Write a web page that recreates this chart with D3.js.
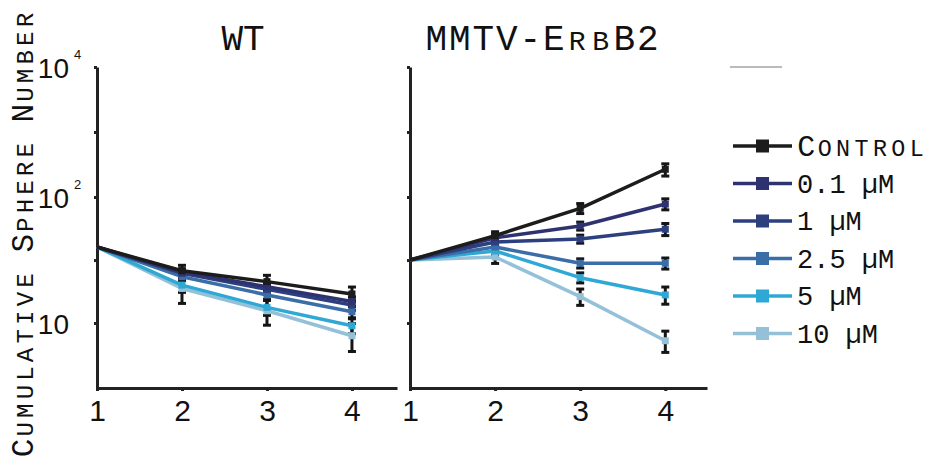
<!DOCTYPE html>
<html>
<head>
<meta charset="utf-8">
<script src="https://cdn.jsdelivr.net/npm/d3@7"></script>
<style>
  body { margin: 0; background: #fff; }
  svg { display: block; }
</style>
</head>
<body>
<svg id="chart"></svg>
<script>
// Data
const days = [1, 2, 3, 4];
const series = ['Control', '0.1 µM', '1 µM', '2.5 µM', '5 µM', '10 µM'];
const seriesColors = ['#1c1c1c', '#2e3270', '#2c3f7f', '#3b6ea6', '#2fa8d5', '#94c1d8'];

const wtMeans = [
  [40.1, 26.0, 21.3, 17.0],
  [40.1, 25.4, 19.4, 14.8],
  [40.1, 24.8, 18.5, 13.9],
  [40.1, 23.3, 16.7, 12.3],
  [40.1, 20.0, 13.3, 9.5],
  [40.1, 18.8, 12.5, 7.9]
];
const wtErrors = [
  [0, 2.7, 2.6, 2.3],
  [0, 1.5, 1.5, 1.3],
  [0, 1.5, 1.5, 1.3],
  [0, 1.6, 1.5, 1.3],
  [0, 2.5, 1.8, 1.3],
  [0, 4.5, 2.9, 2.0]
];
const erbMeans = [
  [31.6, 49.4, 81.3, 267],
  [31.6, 47.5, 58.9, 87.9],
  [31.6, 44.0, 46.4, 55.5],
  [31.6, 40.1, 29.8, 29.8],
  [31.6, 37.3, 22.9, 16.7],
  [31.6, 33.4, 16.2, 7.2]
];
const erbErrors = [
  [0, 3.6, 7.4, 57],
  [0, 3.5, 4.3, 8.8],
  [0, 3.2, 3.4, 6.1],
  [0, 2.9, 2.5, 3.0],
  [0, 2.7, 2.1, 2.6],
  [0, 3.7, 2.4, 1.4]
];
const yTicks = [10, 31.6, 100, 1000, 10000];
const yLabels = [[10, 1], [100, 2], [10000, 4]];

const width = 929, height = 461;
const mono = '"Liberation Mono", "DejaVu Sans Mono", monospace';
const sans = '"Liberation Sans", Arial, sans-serif';

const svg = d3.select('#chart').attr('width', width).attr('height', height);

// the axis is log but its labelled decades are not evenly spaced in the figure
const y = d3.scaleLog().domain([3, 10, 100, 10000]).range([388, 323, 197, 67]);

// monospace small caps: one tspan per glyph on a fixed advance
function smallCaps(g, str, size, advance) {
  const t = g.append('text')
    .attr('font-family', mono).attr('fill', '#111')
    .attr('text-anchor', 'middle');
  const start = -advance * str.length / 2;
  [...str].forEach((c, i) => {
    const lower = c !== c.toUpperCase();
    t.append('tspan')
      .attr('x', start + (i + 0.5) * advance)
      .attr('font-size', lower ? size * 0.78 : size)
      .text(c.toUpperCase());
  });
  return t;
}

const panels = [
  { title: 'WT', means: wtMeans, errors: wtErrors,
    x: d3.scaleLinear().domain([1, 4.53]).range([97, 397]), labels: true, titleX: 243, adv: 21.6 },
  { title: 'MMTV-ErbB2', means: erbMeans, errors: erbErrors,
    x: d3.scaleLinear().domain([1, 4.49]).range([410, 707]), labels: false, titleX: 542, adv: 23.5 }
];

const line = x => d3.line().x((d, i) => x(days[i])).y(d => y(d));

panels.forEach(p => {
  const x = p.x;
  const x0 = x.range()[0];

  // y axis
  const ya = svg.append('g')
    .attr('transform', `translate(${x0},0)`)
    .call(d3.axisLeft(y).tickValues(yTicks).tickSize(3).tickSizeOuter(0).tickFormat(''));
  ya.select('.domain').attr('stroke', '#222').attr('stroke-width', 3);
  ya.selectAll('.tick line').attr('stroke', '#222').attr('stroke-width', 3);

  // x axis
  const xa = svg.append('g')
    .attr('transform', `translate(0,${y.range()[0]})`)
    .call(d3.axisBottom(x).tickValues(days).tickSize(3).tickSizeOuter(0)
      .tickPadding(9).tickFormat(d3.format('d')));
  xa.select('.domain').attr('stroke', '#222').attr('stroke-width', 3);
  xa.selectAll('.tick line').attr('stroke', '#222').attr('stroke-width', 3);
  xa.selectAll('.tick text').attr('font-family', sans).attr('font-size', 30).attr('fill', '#111');

  if (p.labels) {
    const lab = svg.append('g').attr('font-family', sans).attr('fill', '#111');
    yLabels.forEach(([v, e]) => {
      lab.append('text').attr('x', 69).attr('y', y(v) + 11)
        .attr('text-anchor', 'end').attr('font-size', 28).text('10');
      if (e > 1) {
        lab.append('text').attr('x', 74).attr('y', y(v) - 8)
          .attr('font-size', 13).text(e);
      }
    });
  }

  // title
  const tg = svg.append('g').attr('transform', `translate(${p.titleX},50)`);
  smallCaps(tg, p.title, 36, p.adv);

  // error bars (drawn under the lines)
  const eb = svg.append('g').attr('stroke', '#151515').attr('stroke-width', 3);
  p.means.forEach((m, s) => {
    m.forEach((v, i) => {
      const e = p.errors[s][i];
      if (!e) return;
      const cx = x(days[i]);
      const y1 = y(v + e), y2 = y(v - e);
      eb.append('line').attr('x1', cx).attr('x2', cx).attr('y1', y1).attr('y2', y2);
      eb.append('line').attr('x1', cx - 4).attr('x2', cx + 4).attr('y1', y1).attr('y2', y1);
      eb.append('line').attr('x1', cx - 4).attr('x2', cx + 4).attr('y1', y2).attr('y2', y2);
    });
  });

  // lines, lightest first so Control ends on top
  const order = d3.range(series.length).reverse();
  order.forEach(s => {
    svg.append('path')
      .datum(p.means[s])
      .attr('fill', 'none')
      .attr('stroke', seriesColors[s])
      .attr('stroke-width', 3.5)
      .attr('stroke-linejoin', 'round')
      .attr('d', line(x));
    svg.append('g').selectAll('rect')
      .data(p.means[s].slice(1))
      .join('rect')
      .attr('x', (d, i) => x(days[i + 1]) - 3.5)
      .attr('y', d => y(d) - 3.5)
      .attr('width', 7).attr('height', 7)
      .attr('fill', seriesColors[s]);
  });
});

// y axis title
const yt = svg.append('g').attr('transform', 'translate(33,234) rotate(-90)');
smallCaps(yt, 'Cumulative Sphere Number', 31, 18.6);

// legend
const legend = svg.append('g');
legend.append('line')
  .attr('x1', 730).attr('x2', 782).attr('y1', 67).attr('y2', 67)
  .attr('stroke', '#bbb').attr('stroke-width', 2);

series.forEach((name, i) => {
  const ly = 146 + i * 37.5;
  const row = legend.append('g').attr('transform', `translate(0,${ly})`);
  row.append('line').attr('x1', 733).attr('x2', 792).attr('y1', 0).attr('y2', 0)
    .attr('stroke', seriesColors[i]).attr('stroke-width', 3.5);
  row.append('rect').attr('x', 756).attr('y', -6.5).attr('width', 13).attr('height', 13)
    .attr('fill', seriesColors[i]);
  if (i === 0) {
    const cg = row.append('g').attr('transform', `translate(${797 + 129 / 2},10)`);
    smallCaps(cg, name, 30, 18.4);
  } else {
    row.append('text')
      .attr('x', 797).attr('dy', '0.35em')
      .attr('font-family', mono).attr('font-size', 27)
      .attr('fill', '#111')
      .text(name);
  }
});
</script>
</body>
</html>
